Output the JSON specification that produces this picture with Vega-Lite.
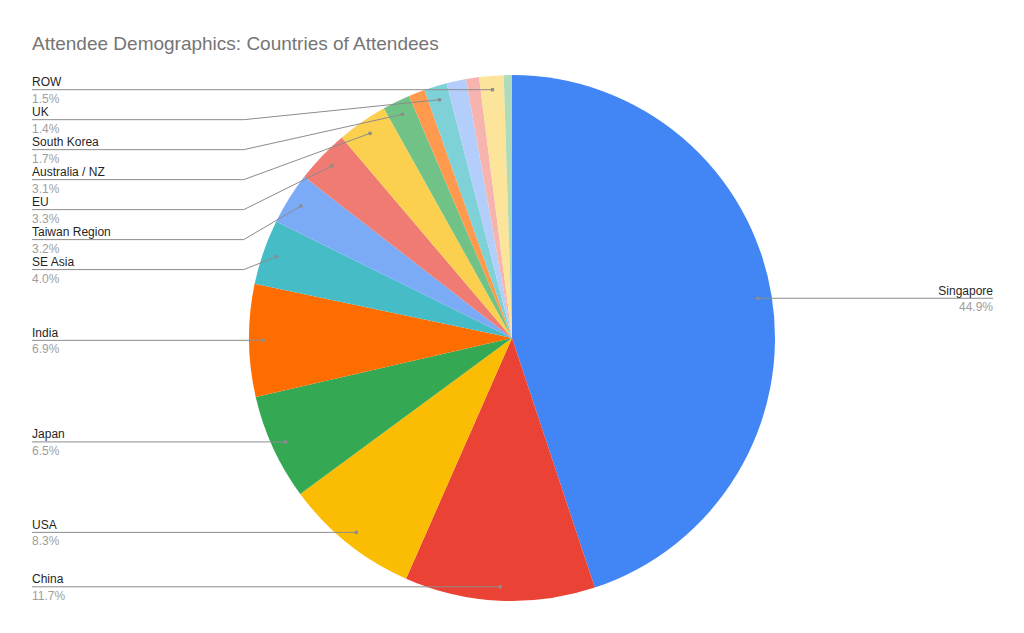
{
  "$schema": "https://vega.github.io/schema/vega-lite/v6.json",
  "width": 1024,
  "height": 556,
  "autosize": "none",
  "padding": {"top": 60, "bottom": 17, "left": 0, "right": 0},
  "background": "#ffffff",
  "title": {
    "text": "Attendee Demographics: Countries of Attendees",
    "anchor": "start",
    "frame": "group",
    "dx": 32,
    "dy": 19,
    "offset": 10,
    "baseline": "alphabetic",
    "font": "Liberation Sans",
    "fontSize": 19,
    "fontWeight": "normal",
    "color": "#757575"
  },
  "config": {"view": {"stroke": null}},
  "data": {
    "values": [
      {"country": "Singapore", "pct": 44.9},
      {"country": "China", "pct": 11.7},
      {"country": "USA", "pct": 8.3},
      {"country": "Japan", "pct": 6.5},
      {"country": "India", "pct": 6.9},
      {"country": "SE Asia", "pct": 4.0},
      {"country": "Taiwan Region", "pct": 3.2},
      {"country": "EU", "pct": 3.3},
      {"country": "Australia / NZ", "pct": 3.1},
      {"country": "South Korea", "pct": 1.7},
      {"country": "Other 1", "pct": 1.0},
      {"country": "UK", "pct": 1.4},
      {"country": "Other 2", "pct": 1.2},
      {"country": "Other 3", "pct": 0.8},
      {"country": "ROW", "pct": 1.5},
      {"country": "Other 4", "pct": 0.5}
    ]
  },
  "transform": [
    {"window": [{"op": "row_number", "as": "idx"}]},
    {"window": [{"op": "sum", "field": "pct", "as": "cum"}], "sort": [{"field": "idx"}], "frame": [null, 0]},
    {"calculate": "(datum.cum - datum.pct / 2) / 100 * 2 * PI", "as": "mid"},
    {"calculate": "0.947 * sin(datum.mid)", "as": "px"},
    {"calculate": "0.947 * cos(datum.mid)", "as": "py"},
    {"calculate": "format(datum.pct, '.1f') + '%'", "as": "label"}
  ],
  "layer": [
    {
      "mark": {"type": "arc", "outerRadius": 263},
      "encoding": {
        "theta": {"field": "pct", "type": "quantitative", "stack": true},
        "order": {"field": "idx", "type": "quantitative"},
        "color": {
          "field": "country",
          "type": "nominal",
          "legend": null,
          "scale": {
            "domain": ["Singapore", "China", "USA", "Japan", "India", "SE Asia", "Taiwan Region", "EU", "Australia / NZ", "South Korea", "Other 1", "UK", "Other 2", "Other 3", "ROW", "Other 4"],
            "range": ["#4285f4", "#ea4335", "#fbbc04", "#34a853", "#ff6d01", "#46bdc6", "#7baaf7", "#f07b72", "#fcd04f", "#71c287", "#ff994d", "#7ed1d7", "#b3cefb", "#f7b4ae", "#fde49b", "#aedcba"]
          }
        }
      }
    },
    {
      "transform": [
        {"filter": "datum.pct >= 1.4 && datum.px < 0"},
        {"window": [{"op": "row_number", "as": "k"}], "sort": [{"field": "mid", "order": "descending"}]},
        {"joinaggregate": [{"op": "max", "field": "py", "as": "top"}]},
        {"calculate": "min(datum.py, datum.top - (datum.k - 1) * 0.114)", "as": "lineY"},
        {"calculate": "datum.lineY < datum.py - 0.001 ? -1.02 : datum.px", "as": "kinkX"},
        {"calculate": "-1.825", "as": "textX"}
      ],
      "layer": [
        {
          "mark": {"type": "rule", "color": "#8c8c8c", "strokeWidth": 1},
          "encoding": {
            "x": {"field": "textX", "type": "quantitative", "axis": null, "scale": {"domain": [-1.9468, 1.9468], "nice": false, "zero": false}},
            "x2": {"field": "kinkX"},
            "y": {"field": "lineY", "type": "quantitative", "axis": null, "scale": {"domain": [-1.057, 1.057], "nice": false, "zero": false}}
          }
        },
        {
          "mark": {"type": "rule", "color": "#8c8c8c", "strokeWidth": 1},
          "encoding": {
            "x": {"field": "kinkX", "type": "quantitative", "axis": null, "scale": {"domain": [-1.9468, 1.9468], "nice": false, "zero": false}},
            "x2": {"field": "px"},
            "y": {"field": "lineY", "type": "quantitative", "axis": null, "scale": {"domain": [-1.057, 1.057], "nice": false, "zero": false}},
            "y2": {"field": "py"}
          }
        },
        {
          "mark": {"type": "point", "filled": true, "size": 14, "color": "#8c8c8c", "opacity": 1},
          "encoding": {
            "x": {"field": "px", "type": "quantitative", "axis": null, "scale": {"domain": [-1.9468, 1.9468], "nice": false, "zero": false}},
            "y": {"field": "py", "type": "quantitative", "axis": null, "scale": {"domain": [-1.057, 1.057], "nice": false, "zero": false}}
          }
        },
        {
          "mark": {"type": "text", "align": "left", "baseline": "alphabetic", "dy": -3.5, "font": "Liberation Sans", "fontSize": 12, "color": "#1f1f1f"},
          "encoding": {
            "x": {"field": "textX", "type": "quantitative", "axis": null, "scale": {"domain": [-1.9468, 1.9468], "nice": false, "zero": false}},
            "y": {"field": "lineY", "type": "quantitative", "axis": null, "scale": {"domain": [-1.057, 1.057], "nice": false, "zero": false}},
            "text": {"field": "country"}
          }
        },
        {
          "mark": {"type": "text", "align": "left", "baseline": "alphabetic", "dy": 13, "font": "Liberation Sans", "fontSize": 12, "color": "#9e9e9e"},
          "encoding": {
            "x": {"field": "textX", "type": "quantitative", "axis": null, "scale": {"domain": [-1.9468, 1.9468], "nice": false, "zero": false}},
            "y": {"field": "lineY", "type": "quantitative", "axis": null, "scale": {"domain": [-1.057, 1.057], "nice": false, "zero": false}},
            "text": {"field": "label"}
          }
        }
      ]
    },
    {
      "transform": [
        {"filter": "datum.pct >= 1.4 && datum.px > 0"},
        {"calculate": "1.829", "as": "textX"}
      ],
      "layer": [
        {
          "mark": {"type": "rule", "color": "#8c8c8c", "strokeWidth": 1},
          "encoding": {
            "x": {"field": "px", "type": "quantitative", "axis": null, "scale": {"domain": [-1.9468, 1.9468], "nice": false, "zero": false}},
            "x2": {"field": "textX"},
            "y": {"field": "py", "type": "quantitative", "axis": null, "scale": {"domain": [-1.057, 1.057], "nice": false, "zero": false}}
          }
        },
        {
          "mark": {"type": "point", "filled": true, "size": 14, "color": "#8c8c8c", "opacity": 1},
          "encoding": {
            "x": {"field": "px", "type": "quantitative", "axis": null, "scale": {"domain": [-1.9468, 1.9468], "nice": false, "zero": false}},
            "y": {"field": "py", "type": "quantitative", "axis": null, "scale": {"domain": [-1.057, 1.057], "nice": false, "zero": false}}
          }
        },
        {
          "mark": {"type": "text", "align": "right", "baseline": "alphabetic", "dy": -3.5, "font": "Liberation Sans", "fontSize": 12, "color": "#1f1f1f"},
          "encoding": {
            "x": {"field": "textX", "type": "quantitative", "axis": null, "scale": {"domain": [-1.9468, 1.9468], "nice": false, "zero": false}},
            "y": {"field": "py", "type": "quantitative", "axis": null, "scale": {"domain": [-1.057, 1.057], "nice": false, "zero": false}},
            "text": {"field": "country"}
          }
        },
        {
          "mark": {"type": "text", "align": "right", "baseline": "alphabetic", "dy": 13, "font": "Liberation Sans", "fontSize": 12, "color": "#9e9e9e"},
          "encoding": {
            "x": {"field": "textX", "type": "quantitative", "axis": null, "scale": {"domain": [-1.9468, 1.9468], "nice": false, "zero": false}},
            "y": {"field": "py", "type": "quantitative", "axis": null, "scale": {"domain": [-1.057, 1.057], "nice": false, "zero": false}},
            "text": {"field": "label"}
          }
        }
      ]
    }
  ]
}
